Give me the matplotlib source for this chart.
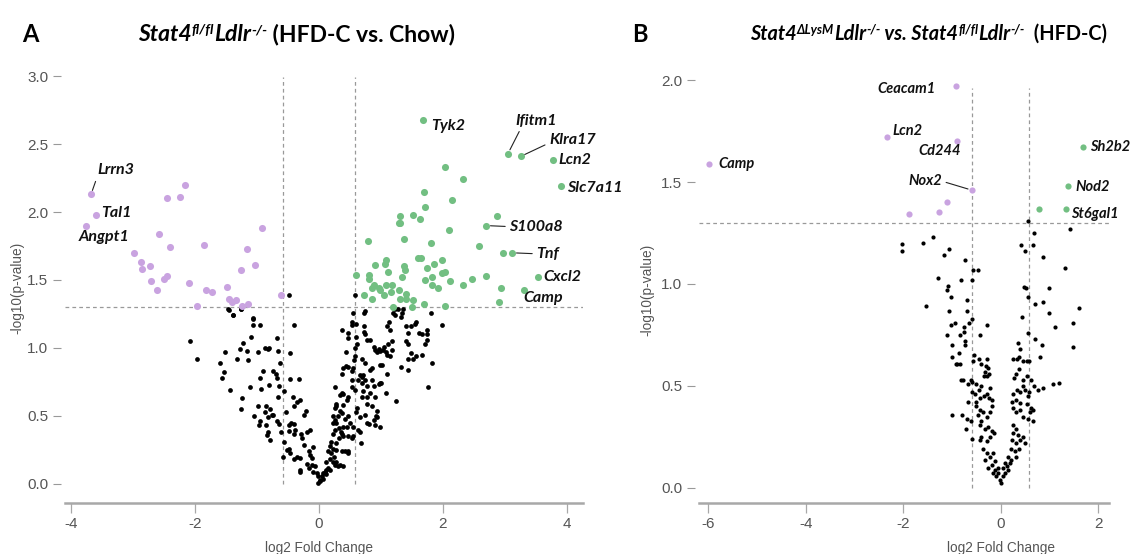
import matplotlib
matplotlib.use("Agg")
import matplotlib.pyplot as plt
import matplotlib.transforms as mtransforms
from matplotlib import font_manager

# ---------------- data: panel A  (HFD-C vs. Chow) ----------------
a_down_x = [-3.68, -3.60, -3.76, -2.17, -2.24, -2.45, -2.59, -2.41, -2.98, -2.87,
            -2.85, -2.73, -2.71, -2.61, -2.50, -2.46, -2.10, -1.85, -1.83, -1.73,
            -1.97, -1.49, -1.46, -1.40, -1.34, -1.26, -1.16, -1.04, -1.25, -1.15,
            -0.92, -0.62]
a_down_y = [2.13, 1.98, 1.90, 2.20, 2.11, 2.10, 1.84, 1.74, 1.70, 1.63,
            1.58, 1.60, 1.49, 1.43, 1.51, 1.53, 1.48, 1.76, 1.43, 1.41,
            1.31, 1.45, 1.36, 1.34, 1.35, 1.57, 1.73, 1.61, 1.31, 1.32,
            1.88, 1.39]

a_up_x = [1.67, 3.05, 3.26, 3.77, 3.90, 2.04, 2.33, 1.70, 2.15, 1.71,
          1.31, 1.29, 1.31, 1.51, 1.63, 2.88, 2.70, 2.10, 0.79, 1.37,
          1.81, 2.58, 2.97, 3.12, 3.54, 3.30, 2.94, 2.91, 2.70, 2.47,
          2.33, 2.11, 2.04, 1.99, 1.98, 1.86, 1.74, 1.83, 1.71, 1.83,
          1.92, 1.59, 1.64, 1.37, 1.39, 1.34, 1.08, 1.06, 0.91, 1.11,
          0.81, 0.80, 0.59, 0.88, 0.96, 0.99, 1.05, 0.85, 1.08, 1.16,
          1.18, 1.29, 1.40, 1.40, 1.52, 1.69, 1.50, 0.85, 0.73, 1.20,
          1.30, 2.03]
a_up_y = [2.68, 2.43, 2.41, 2.38, 2.19, 2.33, 2.24, 2.15, 2.09, 2.04,
          1.97, 1.92, 1.92, 1.98, 1.95, 1.97, 1.90, 1.87, 1.79, 1.80,
          1.77, 1.75, 1.70, 1.70, 1.52, 1.43, 1.44, 1.34, 1.53, 1.51,
          1.46, 1.49, 1.56, 1.55, 1.65, 1.62, 1.59, 1.52, 1.50, 1.46,
          1.44, 1.66, 1.66, 1.60, 1.57, 1.52, 1.65, 1.62, 1.61, 1.56,
          1.54, 1.51, 1.54, 1.46, 1.44, 1.43, 1.39, 1.44, 1.46, 1.41,
          1.46, 1.43, 1.40, 1.36, 1.35, 1.32, 1.30, 1.36, 1.39, 1.30,
          1.36, 1.31]

a_ns_x = [-0.49, -1.47, -1.39, -1.26, -1.07, -1.46, -1.26, -1.39, -1.07, -1.07,
          -0.95, -0.40, -2.09, -1.10, -0.68, -1.23, -1.17, -1.27, -0.99, -0.87,
          -0.83, -0.80, -0.66, -1.51, -0.47, -1.97, -1.60, -1.33, -1.14, -0.63,
          -1.53, -1.56, -0.90, -0.75, -0.69, -0.68, -0.95, -0.47, -0.33, -0.80,
          -0.64, -0.94, -1.12, -1.44, -0.56, -0.67, -1.25, -1.26, -0.42, -0.31,
          -0.35, -0.41, -0.98, -0.86, -0.79, -0.87, -0.74, -0.82, -0.76, -1.05,
          -0.96, -0.97, -0.86, -0.68, -0.64, -0.62, -0.54, -0.25, -0.21, -0.45,
          -0.41, -0.48, -0.39, -0.49, -0.41, -0.83, -0.84, -0.79, -0.29, -0.20,
          -0.15, -0.27, -0.24, -0.56, -0.52, -0.47, -0.48, -0.58, -0.36, -0.31,
          -0.40, -0.17, -0.15, -0.12, -0.09, -0.20, -0.12, -0.17, -0.07, -0.09,
          -0.04, -0.31, -0.30, -0.01, 0.02, 0.01, -0.01, 0.04, 0.07, 0.10,
          0.12, 0.15, 0.18, 0.11, 0.06, 0.12, 0.17, 0.23, 0.28, 0.26,
          0.31, 0.34, 0.39, 0.20, 0.24, 0.15, 0.22, 0.28, 0.37, 0.42,
          0.47, 0.47, 0.17, 0.20, 0.28, 0.33, 0.39, 0.47, 0.53, 0.55,
          0.23, 0.26, 0.33, 0.37, 0.36, 0.39, 0.28, 0.23, 0.26, 0.22,
          0.31, 0.37, 0.42, 0.50, 0.47, 0.45, 0.55, 0.66, 0.63, 0.26,
          0.34, 0.28, 0.39, 0.45, 0.47, 0.39, 0.34, 0.28, 0.25, 0.37,
          0.53, 0.58, 0.61, 0.60, 0.68, 0.66, 0.74, 0.77, 0.88, 0.93,
          0.98, 0.90, 0.80, 0.63, 0.69, 0.71, 0.66, 0.74, 0.70, 0.77,
          0.71, 0.69, 0.77, 0.82, 0.77, 0.85, 0.93, 0.90, 0.98, 1.00,
          0.96, 0.85, 0.88, 0.53, 0.53, 0.47, 0.43, 0.39, 0.37, 0.55,
          0.57, 0.58, 0.43, 0.37, 0.47, 0.47, 0.53, 0.53, 0.55, 0.60,
          0.60, 0.61, 0.58, 0.72, 0.74, 0.73, 0.73, 0.74, 0.77, 0.82,
          0.88, 0.90, 0.93, 0.96, 0.98, 1.03, 1.05, 1.08, 1.10, 1.15,
          1.17, 1.18, 1.12, 0.69, 0.74, 0.85, 0.83, 0.98, 1.01, 1.09,
          1.25, 0.92, 1.09, 1.13, 1.14, 1.20, 1.23, 1.28, 1.32, 1.34,
          1.23, 1.36, 1.41, 1.44, 1.49, 1.55, 1.57, 1.62, 1.66, 1.74,
          1.74, 1.74, 1.71, 1.66, 1.57, 1.52, 1.44, 1.33, 1.44, 1.49,
          1.41, 1.44, 1.76, 1.83, 1.98, 1.80, 1.08, 0.58]
a_ns_y = [1.39, 1.29, 1.24, 1.29, 1.22, 1.28, 1.29, 1.24, 1.21, 1.17,
          1.17, 1.17, 1.05, 1.08, 1.07, 1.04, 0.98, 0.99, 0.97, 1.00,
          0.995, 1.00, 0.98, 0.97, 0.96, 0.92, 0.89, 0.92, 0.91, 0.89,
          0.82, 0.78, 0.83, 0.83, 0.81, 0.78, 0.78, 0.77, 0.77, 0.73,
          0.72, 0.70, 0.71, 0.69, 0.68, 0.64, 0.63, 0.55, 0.64, 0.62,
          0.60, 0.57, 0.57, 0.57, 0.55, 0.53, 0.51, 0.49, 0.51, 0.50,
          0.46, 0.43, 0.43, 0.46, 0.44, 0.38, 0.53, 0.51, 0.54, 0.45,
          0.44, 0.43, 0.40, 0.39, 0.37, 0.38, 0.36, 0.32, 0.37, 0.38,
          0.40, 0.34, 0.29, 0.31, 0.25, 0.23, 0.26, 0.20, 0.20, 0.19,
          0.18, 0.24, 0.21, 0.19, 0.275, 0.15, 0.14, 0.115, 0.13, 0.09,
          0.08, 0.10, 0.09, 0.055, 0.03, 0.02, 0.005, 0.055, 0.08, 0.09,
          0.10, 0.115, 0.10, 0.07, 0.04, 0.16, 0.18, 0.16, 0.16, 0.14,
          0.13, 0.14, 0.13, 0.23, 0.20, 0.24, 0.26, 0.25, 0.245, 0.245,
          0.225, 0.24, 0.28, 0.31, 0.30, 0.34, 0.35, 0.35, 0.34, 0.35,
          0.37, 0.40, 0.41, 0.37, 0.385, 0.42, 0.45, 0.45, 0.47, 0.50,
          0.50, 0.52, 0.48, 0.45, 0.50, 0.42, 0.42, 0.385, 0.40, 0.56,
          0.54, 0.59, 0.58, 0.62, 0.64, 0.66, 0.655, 0.57, 0.71, 0.67,
          0.71, 0.69, 0.56, 0.53, 0.30, 0.495, 0.51, 0.45, 0.47, 0.495,
          0.42, 0.43, 0.44, 0.765, 0.79, 0.80, 0.80, 0.765, 0.74, 0.72,
          0.68, 0.64, 0.64, 0.67, 0.59, 0.57, 0.54, 0.64, 0.74, 0.745,
          0.735, 0.765, 0.72, 0.765, 0.83, 0.86, 0.87, 0.85, 0.81, 0.85,
          0.91, 0.94, 0.97, 1.13, 1.07, 1.11, 1.17, 1.19, 1.255, 1.18,
          1.08, 1.03, 1.00, 1.255, 1.27, 1.16, 1.12, 1.10, 1.06, 1.06,
          1.01, 0.985, 0.97, 0.995, 0.98, 0.985, 1.01, 0.97, 0.95, 0.94,
          0.985, 1.05, 1.03, 0.92, 0.89, 0.85, 0.84, 0.875, 0.875, 0.81,
          0.61, 0.50, 1.16, 1.19, 1.13, 1.255, 1.24, 1.29, 1.23, 1.255,
          1.29, 1.29, 1.16, 1.11, 1.16, 1.18, 1.19, 1.11, 1.10, 1.13,
          1.10, 1.06, 1.03, 0.95, 0.94, 0.92, 0.92, 0.86, 0.84, 0.96,
          1.05, 1.03, 0.71, 0.89, 1.17, 1.26, 0.67, 1.39]

# labelled genes, panel A: (gene, log2FC, -log10 p)
a_labels = [("Lrrn3", -3.68, 2.13), ("Tal1", -3.60, 1.98), ("Angpt1", -3.76, 1.90),
            ("Tyk2", 1.67, 2.68), ("Ifitm1", 3.05, 2.43), ("Klra17", 3.26, 2.41),
            ("Lcn2", 3.77, 2.38), ("Slc7a11", 3.90, 2.19), ("S100a8", 2.70, 1.90),
            ("Tnf", 3.12, 1.70), ("Cxcl2", 3.54, 1.52), ("Camp", 3.30, 1.43)]

# ---------------- data: panel B  (dLysM vs. fl/fl, HFD-C) ----------------
b_down_x = [-5.98, -2.34, -1.88, -0.92, -0.90, -0.59, -1.11, -1.26]
b_down_y = [1.59, 1.72, 1.345, 1.97, 1.70, 1.46, 1.40, 1.355]
b_up_x = [1.68, 1.37, 1.33, 0.78]
b_up_y = [1.67, 1.48, 1.37, 1.37]

b_ns_x = [0.55, 1.41, 0.68, -1.39, -2.02, -2.02, -1.59, -1.07, -1.17, -0.73,
          -0.57, -0.46, 0.41, 0.66, 0.50, 0.87, 1.32, -1.28, -0.81, -0.58,
          -1.08, -1.10, -1.03, 0.47, 0.51, 0.56, 0.70, 0.87, 0.98, -1.54,
          -1.07, -0.69, -0.70, -0.58, 0.43, 0.98, 1.61, 1.48, 1.11, 0.55,
          -1.03, -0.93, -0.66, -0.76, -0.83, -0.75, -0.74, -0.74, -1.10, -0.43,
          -0.29, -1.00, -0.85, -1.00, -0.89, -0.92, -0.84, 0.70, 0.85, 0.81,
          1.48, 0.36, 0.40, 0.38, 0.34, 0.26, 0.45, 0.53, 0.57, -0.55,
          -0.57, -0.44, -0.40, -0.29, -0.31, -0.26, -0.33, -0.24, -0.28, -0.35,
          -0.82, -0.77, -0.67, -0.59, -0.50, -0.62, 0.38, 0.32, 0.27, 0.46,
          0.53, 0.63, 0.68, 0.77, 0.87, 1.07, 1.20, -0.45, -0.40, -0.29,
          -0.23, -0.24, -0.19, -0.35, -0.43, -0.50, -0.53, -0.60, 0.25, 0.34,
          0.40, 0.46, 0.49, 0.58, 0.56, 0.31, 0.24, 0.39, 0.54, 0.63,
          0.66, 0.59, 0.39, 0.25, 0.31, 0.46, 0.56, 0.66, -0.68, -1.00,
          -0.79, -0.70, -0.62, -0.72, -0.58, -0.50, -0.43, -0.46, -0.36, -0.29,
          -0.23, -0.19, -0.40, -0.43, -0.33, -0.26, -0.19, -0.23, -0.14, -0.40,
          -0.43, -0.29, 0.25, 0.32, 0.25, 0.36, 0.24, 0.32, 0.39, 0.46,
          0.49, 0.22, 0.29, 0.38, 0.15, 0.22, 0.32, -0.36, -0.29, -0.23,
          -0.33, -0.16, -0.12, -0.19, -0.26, -0.12, -0.055, -0.09, -0.02, 0.0,
          0.05, 0.08, 0.12, 0.15, 0.08, 0.18, 0.05, -0.16, -0.055]
b_ns_y = [1.31, 1.27, 1.25, 1.23, 1.195, 1.16, 1.20, 1.17, 1.14, 1.12,
          1.07, 1.07, 1.19, 1.19, 1.16, 1.13, 1.08, 1.03, 1.02, 1.02,
          0.99, 0.97, 0.935, 0.985, 0.98, 0.935, 0.90, 0.91, 0.98, 0.89,
          0.87, 0.92, 0.87, 0.83, 0.84, 0.86, 0.88, 0.81, 0.79, 0.76,
          0.80, 0.81, 0.81, 0.79, 0.75, 0.765, 0.72, 0.70, 0.75, 0.75,
          0.80, 0.70, 0.66, 0.64, 0.61, 0.61, 0.61, 0.73, 0.70, 0.64,
          0.69, 0.71, 0.68, 0.64, 0.63, 0.63, 0.62, 0.62, 0.62, 0.65,
          0.62, 0.63, 0.61, 0.63, 0.60, 0.59, 0.57, 0.56, 0.55, 0.55,
          0.53, 0.53, 0.51, 0.52, 0.51, 0.53, 0.585, 0.56, 0.54, 0.53,
          0.55, 0.53, 0.50, 0.48, 0.49, 0.51, 0.515, 0.48, 0.50, 0.46,
          0.49, 0.44, 0.43, 0.45, 0.44, 0.42, 0.46, 0.47, 0.46, 0.48,
          0.47, 0.50, 0.48, 0.47, 0.45, 0.43, 0.42, 0.415, 0.41, 0.39,
          0.38, 0.37, 0.38, 0.39, 0.37, 0.35, 0.34, 0.33, 0.42, 0.36,
          0.36, 0.34, 0.33, 0.29, 0.24, 0.40, 0.38, 0.36, 0.37, 0.35,
          0.37, 0.40, 0.33, 0.31, 0.29, 0.30, 0.28, 0.25, 0.27, 0.25,
          0.235, 0.23, 0.31, 0.29, 0.27, 0.26, 0.235, 0.22, 0.235, 0.25,
          0.22, 0.19, 0.18, 0.19, 0.154, 0.138, 0.154, 0.19, 0.17, 0.154,
          0.138, 0.17, 0.13, 0.113, 0.097, 0.089, 0.072, 0.056, 0.04, 0.023,
          0.056, 0.072, 0.105, 0.089, 0.121, 0.121, 0.097, 0.072, 0.097]

b_labels = [("Camp", -5.98, 1.59), ("Lcn2", -2.34, 1.72), ("Ceacam1", -0.92, 1.97),
            ("Cd244", -0.90, 1.70), ("Nox2", -0.59, 1.46), ("Sh2b2", 1.68, 1.67),
            ("Nod2", 1.37, 1.48), ("St6gal1", 1.33, 1.37)]

fc_cut = 0.585   # log2(1.5)
p_cut = 1.301    # -log10(0.05)

# ---------------- style ----------------
PURPLE = "#c9a3e0"
GREEN = "#72bf82"
GRAY_TXT = "#555555"
GRAY_LN = "#999999"

installed = {f.name for f in font_manager.fontManager.ttflist}
AX_FONT = [f for f in ["Liberation Sans Narrow", "Liberation Sans", "DejaVu Sans"] if f in installed]
LAB_FONT = [f for f in ["Lato", "Open Sans", "DejaVu Sans"] if f in installed]
plt.rcParams["font.family"] = AX_FONT

# label layout: gene -> (dx, dy in pixels, ha, connector relpos or None)
a_label_pos = {
    "Lrrn3": (6, 24, "left", (0.0, 0.0)),
    "Tal1": (5, 2, "left", None),
    "Angpt1": (-7, -11, "left", None),
    "Tyk2": (9, -6, "left", None),
    "Ifitm1": (7, 33, "left", (0.15, 0.0)),
    "Klra17": (28, 16, "left", (0.0, 0.3)),
    "Lcn2": (6, 0, "left", None),
    "Slc7a11": (6, -2, "left", None),
    "S100a8": (23, -1, "left", (0.0, 0.5)),
    "Tnf": (24, -1, "left", (0.0, 0.5)),
    "Cxcl2": (5, 0, "left", None),
    "Camp": (0, -8, "left", None),
}
b_label_pos = {
    "Camp": (9, 0, "left", None),
    "Lcn2": (6, 6, "left", None),
    "Ceacam1": (-20, -3, "right", None),
    "Cd244": (4, -10, "right", None),
    "Nox2": (-30, 9, "right", (1.0, 0.5)),
    "Sh2b2": (7, 0, "left", None),
    "Nod2": (8, -1, "left", None),
    "St6gal1": (5, -5, "left", None),
}


def volcano(ax, ns_x, ns_y, down_x, down_y, up_x, up_y, labels, label_pos,
            xlim, ylim, xticks, yticks, ytop, dot, lab_size):
    ax.scatter(ns_x, ns_y, s=dot * 0.45, color="black", linewidths=0, zorder=3)
    ax.scatter(down_x, down_y, s=dot, color=PURPLE, linewidths=0, zorder=3)
    ax.scatter(up_x, up_y, s=dot, color=GREEN, linewidths=0, zorder=3)

    dash = dict(color=GRAY_LN, lw=0.9, ls=(0, (3, 2.5)), zorder=1)
    ax.axhline(p_cut, **dash)
    ax.vlines([-fc_cut, fc_cut], 0, ytop, **dash)

    for gene, gx, gy in labels:
        dx, dy, ha, rel = label_pos[gene]
        kw = {}
        if rel is not None:
            kw["arrowprops"] = dict(arrowstyle="-", color="#222222", lw=0.8,
                                    shrinkA=1, shrinkB=3, relpos=rel)
        ax.annotate(gene, (gx, gy), xytext=(dx, dy), textcoords="offset pixels",
                    ha=ha, va="center", fontsize=lab_size, fontweight="bold",
                    fontstyle="italic", family=LAB_FONT, color="#111111", zorder=5, **kw)

    ax.set_xlim(*xlim)
    ax.set_ylim(*ylim)
    ax.set_xticks(xticks)
    ax.set_yticks(yticks)
    ax.set_xticklabels([f"{t:g}" for t in xticks])
    ax.set_yticklabels([f"{t:.1f}" for t in yticks])
    ax.spines["top"].set_visible(False)
    ax.spines["right"].set_visible(False)
    ax.spines["left"].set_color("none")
    ax.spines["left"].set_position(("outward", 3))
    ax.spines["bottom"].set_color("#a8a8a8")
    ax.spines["bottom"].set_linewidth(1.8)
    ax.tick_params(axis="x", direction="out", length=7, width=0.9, color="#a8a8a8",
                   labelcolor=GRAY_TXT, labelsize=11, pad=3)
    ax.tick_params(axis="y", direction="out", length=6, width=0.8, color=GRAY_LN,
                   labelcolor=GRAY_TXT, labelsize=11, pad=3)
    ax.set_xlabel("log2 Fold Change", color=GRAY_TXT, fontsize=9.8)
    ax.set_ylabel("-log10(p-value)", color=GRAY_TXT, fontsize=9.8)
    blend = mtransforms.blended_transform_factory(ax.transData, ax.transAxes)
    ax.xaxis.set_label_coords(0, -0.088, transform=blend)


def rich_title(ax, x_px, y_px, parts):
    # parts: (text, italic, size, superscript)
    prev = base = None
    for txt, italic, size, sup in parts:
        kw = dict(fontsize=size, fontweight="bold", family=LAB_FONT,
                  fontstyle="italic" if italic else "normal", color="black",
                  ha="left", va="bottom", annotation_clip=False)
        if prev is None:
            t = ax.annotate(txt, (x_px, y_px), xycoords="figure pixels", **kw)
            base = t
        elif sup:
            t = ax.annotate(txt, (1, 0.42), xycoords=(prev, base), **kw)
        else:
            t = ax.annotate(txt, (1, 0), xycoords=(prev, base), **kw)
            base = t
        prev = t


fig = plt.figure(figsize=(11.31, 5.54), dpi=100)
W, H = 1131, 554

ax_a = fig.add_axes([65 / W, 1 - 503 / H, 518 / W, 429.7 / H])
volcano(ax_a, a_ns_x, a_ns_y, a_down_x, a_down_y, a_up_x, a_up_y, a_labels, a_label_pos,
        xlim=(-4.1, 4.26), ylim=(-0.14, 3.02), xticks=[-4, -2, 0, 2, 4],
        yticks=[0.0, 0.5, 1.0, 1.5, 2.0, 2.5, 3.0], ytop=2.99, dot=26, lab_size=11.5)
ax_a.yaxis.set_label_coords(-0.078, 0.5)

ax_b = fig.add_axes([699 / W, 1 - 503 / H, 410 / W, 427 / H])
volcano(ax_b, b_ns_x, b_ns_y, b_down_x, b_down_y, b_up_x, b_up_y, b_labels, b_label_pos,
        xlim=(-6.19, 2.22), ylim=(-0.074, 2.02), xticks=[-6, -4, -2, 0, 2],
        yticks=[0.0, 0.5, 1.0, 1.5, 2.0], ytop=1.96, dot=20, lab_size=10.5)
ax_b.yaxis.set_label_coords(-0.11, 0.5)

# panel letters and titles
fig.text(22 / W, 1 - 42 / H, "A", fontsize=17, fontweight="bold", family=LAB_FONT)
fig.text(632 / W, 1 - 42 / H, "B", fontsize=17, fontweight="bold", family=LAB_FONT)
rich_title(ax_a, 138, H - 45, [("Stat4", True, 16.5, False), ("fl/fl", True, 10.3, True),
                               ("Ldlr", True, 16.5, False), ("-/-", True, 10.3, True),
                               (" (HFD-C vs. Chow)", False, 16.5, False)])
rich_title(ax_b, 750, H - 44, [("Stat4", True, 14.3, False), ("\u0394LysM", True, 9.2, True),
                               ("Ldlr", True, 14.3, False), ("-/-", True, 9.2, True),
                               (" vs. Stat4", True, 14.3, False), ("fl/fl", True, 9.2, True),
                               ("Ldlr", True, 14.3, False), ("-/-", True, 9.2, True),
                               ("  (HFD-C)", False, 14.3, False)])

fig.savefig("out.png", dpi=100)
